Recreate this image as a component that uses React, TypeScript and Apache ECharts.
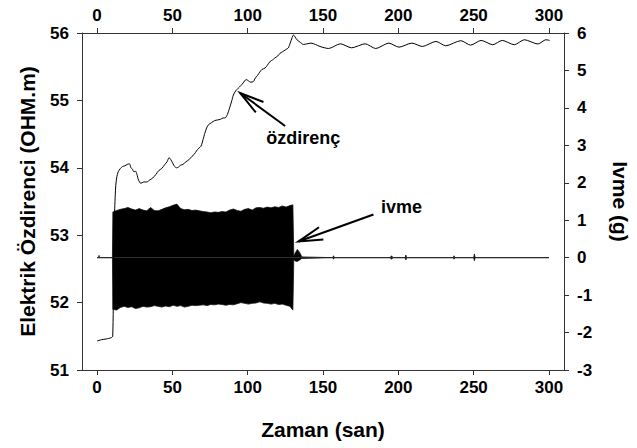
import React, { useEffect, useRef } from "react";
import * as echarts from "echarts";

// Zaman ekseni tik değerleri (alt ve üst eksen)
const timeTicks = [0, 50, 100, 150, 200, 250, 300];

// Elektrik özdirenci (OHM.m) – zaman (san)
const ozTime = [
  0, 3, 6, 9.5, 10.4, 11, 11.6, 12.3, 13, 14,
  15.5, 17, 18.5, 20, 21.5, 22.5, 23.5, 24.5, 25.5, 26.5,
  27.5, 29, 31, 33, 35, 37, 39, 41, 43, 45,
  46.5, 47.8, 49, 50.4, 51.5, 52.7, 54, 55.5, 57, 59,
  61, 63, 64.5, 66, 67.5, 69, 70.4, 71.5, 72.7, 74,
  76, 78, 80, 82, 83.7, 85, 86.5, 88, 89.5, 90.5,
  92, 93.7, 95.5, 97, 99, 100.5, 102, 103.8, 105, 106.5,
  108, 109.5, 111.5, 113, 115, 116.5, 118, 120, 121.5, 123,
  125, 127, 128.2, 129.5, 130.4, 131.5, 132.7, 135, 137, 139.5,
  142, 145, 148, 153.7, 161.5, 169, 178, 185, 193.7, 200.4,
  209, 216, 225, 231.5, 241.5, 248, 255, 262.7, 269, 277,
  283.7, 292.7, 298, 300.5,
];
const ozValue = [
  51.43, 51.45, 51.46, 51.48, 51.5, 52.4, 53.3, 53.7, 53.85, 53.94,
  53.99, 54.02, 54.03, 54.05, 54.06, 54.0, 53.98, 53.94, 53.95, 53.9,
  53.82, 53.77, 53.79, 53.79, 53.82, 53.85, 53.9, 53.96, 53.99, 54.05,
  54.09, 54.15, 54.12, 54.06, 54.02, 54.0, 54.01, 54.04, 54.05, 54.09,
  54.12, 54.17, 54.2, 54.25, 54.29, 54.32, 54.42, 54.51, 54.59, 54.64,
  54.67, 54.7, 54.71, 54.72, 54.74, 54.74, 54.79, 54.89, 55.0, 55.08,
  55.14, 55.18, 55.22, 55.26, 55.31, 55.29, 55.27, 55.28, 55.33, 55.37,
  55.42, 55.46, 55.48, 55.52, 55.58, 55.6, 55.63, 55.66, 55.7, 55.72,
  55.75, 55.78, 55.85, 55.93, 55.97, 55.94, 55.9, 55.86, 55.83, 55.84,
  55.85, 55.83, 55.8, 55.77, 55.84, 55.78, 55.84, 55.77, 55.85, 55.79,
  55.85, 55.8, 55.875, 55.81, 55.886, 55.82, 55.89, 55.826, 55.89, 55.826,
  55.9, 55.837, 55.9, 55.89,
];

// İvme (g): sinyalin üst ve alt zarfı
const ivmeTime = [
  0, 1.0, 1.3, 1.6, 10.2,
  10.5, 13, 15.5, 18, 20.5, 23, 25.5, 28, 30.5, 33,
  35.5, 38, 40.5, 43, 45.5, 48, 50.5, 53, 55.5, 58,
  60.5, 63, 65.5, 68, 70.5, 73, 75.5, 78, 80.5, 83,
  85.5, 88, 90.5, 93, 95.5, 98, 100.5, 103, 105.5, 108,
  110.5, 113, 115.5, 118, 120.5, 123, 125.5, 128, 130,
  130.6, 131.5, 133, 134.5, 136, 156.5, 157, 157.5, 194.5, 195.5,
  196.5, 204.5, 205, 205.5, 236.5, 237, 237.5, 250, 250.5, 251, 300,
];
const ivmeUpper = [
  0, 0, 0.06, 0, 0,
  1.22, 1.26, 1.29, 1.31, 1.34, 1.3, 1.27, 1.31, 1.27, 1.25,
  1.34, 1.26, 1.25, 1.29, 1.33, 1.36, 1.4, 1.43, 1.31, 1.28,
  1.29, 1.26, 1.27, 1.25, 1.23, 1.22, 1.2, 1.22, 1.21, 1.23,
  1.22, 1.27, 1.3, 1.26, 1.24, 1.29, 1.31, 1.27, 1.33, 1.34,
  1.32, 1.35, 1.33, 1.36, 1.34, 1.38, 1.35, 1.39, 1.41,
  0.05, 0.12, 0.22, 0.14, 0.02, 0, 0.05, 0, 0, 0.05,
  0, 0, 0.07, 0, 0, 0.05, 0, 0, 0.1, 0, 0,
];
const ivmeLower = [
  0, 0, -0.01, 0, 0,
  -1.38, -1.4, -1.33, -1.3, -1.33, -1.31, -1.36, -1.34, -1.3, -1.32,
  -1.31, -1.28, -1.3, -1.32, -1.29, -1.31, -1.27, -1.3, -1.28, -1.32,
  -1.3, -1.27, -1.28, -1.27, -1.26, -1.28, -1.25, -1.26, -1.24, -1.25,
  -1.27, -1.25, -1.26, -1.23, -1.2, -1.22, -1.24, -1.22, -1.21, -1.18,
  -1.21, -1.22, -1.24, -1.22, -1.25, -1.24, -1.27, -1.3, -1.4,
  -0.05, -0.09, -0.1, -0.06, -0.02, 0, -0.04, 0, 0, -0.04,
  0, 0, -0.06, 0, 0, -0.04, 0, 0, -0.08, 0, 0,
];

// Ok uçlarının veri koordinatları
const ozArrowTip = [95, 55.11];
const ivmeArrowTip = [133.7, 0.43];

const FONT = "'Liberation Sans', Arial, Helvetica, sans-serif";
const AXIS_COLOR = "#333";

const zip = (xs: number[], ys: number[]) => xs.map((x, i) => [x, ys[i]]);

function arrow(tip: number[], tail: number[], len = 25, spreadDeg = 15) {
  const ang = Math.atan2(tail[1] - tip[1], tail[0] - tip[0]);
  const s = (spreadDeg * Math.PI) / 180;
  const p1 = [tip[0] + len * Math.cos(ang + s), tip[1] + len * Math.sin(ang + s)];
  const p2 = [tip[0] + len * Math.cos(ang - s), tip[1] + len * Math.sin(ang - s)];
  return [
    {
      type: "line",
      shape: { x1: tail[0], y1: tail[1], x2: tip[0], y2: tip[1] },
      style: { stroke: "#000", lineWidth: 2 },
    },
    {
      type: "polyline",
      shape: { points: [p1, tip, p2] },
      style: { stroke: "#000", lineWidth: 2, fill: null },
    },
  ];
}

export default function App() {
  const ref = useRef<HTMLDivElement>(null);

  useEffect(() => {
    if (!ref.current) return;
    const chart = echarts.init(ref.current, null, { renderer: "svg" });

    const labelStyle = {
      color: "#000",
      fontFamily: FONT,
      fontWeight: "bold" as const,
      fontSize: 17,
    };
    const nameStyle = {
      color: "#000",
      fontFamily: FONT,
      fontWeight: "bold" as const,
      fontSize: 21,
    };
    const lineAxis = { show: true, onZero: false, lineStyle: { color: AXIS_COLOR, width: 1 } };
    const tickAxis = { show: true, inside: false, length: 5, lineStyle: { color: AXIS_COLOR, width: 1 } };

    const timeAxis = (position: "top" | "bottom", withName: boolean) => ({
      type: "value",
      position,
      min: -10,
      max: 310,
      axisLine: lineAxis,
      axisTick: { ...tickAxis, customValues: timeTicks },
      axisLabel: { ...labelStyle, margin: 9, customValues: timeTicks },
      splitLine: { show: false },
      name: withName ? "Zaman (san)" : "",
      nameLocation: "middle",
      nameGap: 49,
      nameTextStyle: nameStyle,
    });

    chart.setOption({
      animation: false,
      backgroundColor: "#fff",
      grid: {
        left: 82,
        right: 73,
        top: 33,
        bottom: 78,
        containLabel: false,
        outerBoundsMode: "none",
      },
      xAxis: [timeAxis("bottom", true), timeAxis("top", false)],
      yAxis: [
        {
          type: "value",
          position: "left",
          min: 51,
          max: 56,
          interval: 1,
          axisLine: lineAxis,
          axisTick: tickAxis,
          axisLabel: { ...labelStyle, margin: 13 },
          splitLine: { show: false },
          name: "Elektrik Özdirenci (OHM.m)",
          nameLocation: "middle",
          nameRotate: 90,
          nameGap: 44,
          nameTextStyle: nameStyle,
        },
        {
          type: "value",
          position: "right",
          min: -3,
          max: 6,
          interval: 1,
          axisLine: lineAxis,
          axisTick: tickAxis,
          axisLabel: { ...labelStyle, margin: 13 },
          splitLine: { show: false },
          name: "Ivme (g)",
          nameLocation: "middle",
          nameRotate: -90,
          nameGap: 46,
          nameTextStyle: nameStyle,
        },
      ],
      series: [
        {
          name: "ivme-üst",
          type: "line",
          xAxisIndex: 0,
          yAxisIndex: 1,
          data: zip(ivmeTime, ivmeUpper),
          showSymbol: false,
          lineStyle: { color: "#111", width: 0.8 },
          areaStyle: { color: "#000", opacity: 1, origin: "auto" },
          z: 2,
        },
        {
          name: "ivme-alt",
          type: "line",
          xAxisIndex: 0,
          yAxisIndex: 1,
          data: zip(ivmeTime, ivmeLower),
          showSymbol: false,
          lineStyle: { color: "#111", width: 0.8 },
          areaStyle: { color: "#000", opacity: 1, origin: "auto" },
          z: 2,
        },
        {
          name: "özdirenç",
          type: "line",
          xAxisIndex: 0,
          yAxisIndex: 0,
          data: zip(ozTime, ozValue),
          showSymbol: false,
          smooth: 0.25,
          lineStyle: { color: "#000", width: 1 },
          z: 3,
        },
      ],
    });

    // Açıklama okları ve yazıları, veri koordinatlarından piksel konumuna çevrilir
    const ozTip = chart.convertToPixel({ xAxisIndex: 0, yAxisIndex: 0 }, ozArrowTip) as number[];
    const ivTip = chart.convertToPixel({ xAxisIndex: 0, yAxisIndex: 1 }, ivmeArrowTip) as number[];
    const ozTail = [ozTip[0] + 45, ozTip[1] + 33];
    const ivTail = [ivTip[0] + 75, ivTip[1] - 27];

    chart.setOption({
      graphic: [
        ...arrow(ozTip, ozTail),
        ...arrow(ivTip, ivTail),
        {
          type: "text",
          x: ozTip[0] + 63,
          y: ozTip[1] + 45,
          style: {
            text: "özdirenç",
            fill: "#000",
            font: `bold 18px ${FONT}`,
            align: "center",
            verticalAlign: "middle",
          },
        },
        {
          type: "text",
          x: ivTip[0] + 103,
          y: ivTip[1] - 35,
          style: {
            text: "ivme",
            fill: "#000",
            font: `bold 18px ${FONT}`,
            align: "center",
            verticalAlign: "middle",
          },
        },
      ],
    });

    return () => chart.dispose();
  }, []);

  return (
    <div
      ref={ref}
      style={{ position: "fixed", left: 0, top: 0, width: 637, height: 448 }}
    />
  );
}
